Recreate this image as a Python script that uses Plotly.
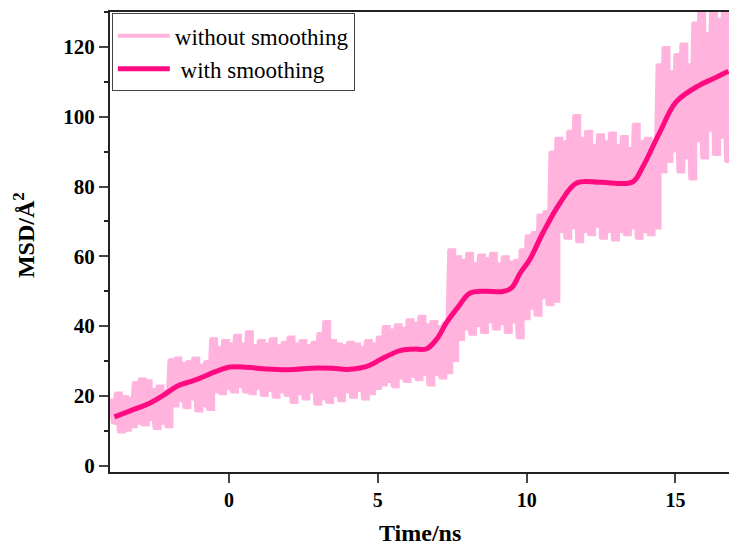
import plotly.graph_objects as go

# ---- data ----
t_start = -4.0
t_step = 0.1  # raw series sampled every 0.1 ns (alternating peaks / troughs)

raw_hi = [19, 21, 20, 19.5, 24, 25, 24.5, 22, 23, 21.5,
          30.5, 31, 29.5, 30, 31, 29, 30, 36.5, 34, 36,
          35, 37.5, 35, 38.5, 34.5, 36, 35, 36.5, 34.5, 35.5,
          37, 35, 36, 34.5, 35.5, 38, 41.5, 36, 35, 34.5,
          35.5, 35, 34, 36, 35, 37, 40, 39, 40.5, 39.5,
          42, 41, 43, 40.5, 41.5, 40, 41, 62, 60, 59,
          61, 58, 60.5, 59.5, 61, 58, 60, 58.5, 59, 62,
          66, 67, 72, 73, 90, 94, 93, 96, 100.5, 94,
          96, 92, 95, 93, 95.5, 92, 94.5, 91, 98, 93,
          94, 92, 115, 120, 113, 118, 121, 115, 127, 130,
          124, 132, 128, 133, 130]
raw_lo = [12, 9.5, 10, 11, 12, 11.5, 13, 10.5, 12, 11,
          17, 18.5, 16.5, 19, 15.5, 17, 16, 21, 20.5, 22,
          21, 22.5, 21, 20.5, 22, 20, 21.5, 19.5, 21, 20,
          18, 20.5, 19, 21, 17.5, 19, 18, 20, 18.5, 21,
          19.5, 21.5, 19, 20.5, 22, 23, 24, 22.5, 25, 24,
          25.5, 24.5, 26, 23, 26, 25, 26.5, 30, 36, 39,
          37.5, 40, 38, 41, 39, 40.5, 38, 41, 36.5, 42,
          45, 43, 48, 46, 47, 67, 65, 68, 64, 67,
          66, 68.5, 65, 67, 64.5, 67, 66, 68, 65, 67,
          66, 68, 84, 87, 90, 84, 88, 82, 93, 88,
          96, 89, 94, 87, 92]

smooth_t = [-3.85, -3.3, -2.65, -2.2, -1.75, -1.3, -0.97, -0.5, 0.03, 0.6,
            1.27, 2.0, 2.94, 3.5, 3.95, 4.4, 4.73, 5.1, 5.74, 6.2,
            6.64, 7.0, 7.3, 7.7, 8.09, 8.6, 9.2, 9.5, 9.77, 10.1,
            10.54, 11.1, 11.68, 12.5, 13.56, 13.9, 14.46, 15.03, 15.8, 16.3, 16.78]
smooth_msd = [14, 15.8, 18, 20.2, 22.8, 24.1, 25.1, 26.8, 28.3, 28.2,
              27.7, 27.5, 28, 27.9, 27.6, 28, 28.8, 30.5, 33, 33.4,
              33.5, 36.5, 40.9, 45.5, 49.4, 50, 49.9, 51, 55, 59,
              66.6, 75, 81, 81.2, 81.3, 85.6, 95.3, 104.3, 109, 111, 113]

x_ticks = [0, 5, 10, 15]
y_ticks = [0, 20, 40, 60, 80, 100, 120]

# raw series: interleave the peak and trough readings on the time grid
raw_t, raw_msd = [], []
t_hi, t_lo = [], []
for i, (hi, lo) in enumerate(zip(raw_hi, raw_lo)):
    th = t_start + (2 * i) * t_step
    tl = t_start + (2 * i + 1) * t_step
    t_hi.append(th)
    t_lo.append(tl)
    raw_t += [th, tl]
    raw_msd += [hi, lo]

FONT = "Liberation Serif"
LIGHT = "#FFB3DD"
DEEP = "#FF0A80"

fig = go.Figure()
# filled body of the noisy band (between peaks and troughs)
fig.add_trace(go.Scatter(x=t_hi, y=raw_hi, mode="lines", line=dict(color=LIGHT, width=2, shape="hv"),
                         showlegend=False, hoverinfo="skip"))
fig.add_trace(go.Scatter(x=t_lo, y=raw_lo, mode="lines", line=dict(color=LIGHT, width=2, shape="hv"),
                         fill="tonexty", fillcolor=LIGHT, showlegend=False, hoverinfo="skip"))
fig.add_trace(go.Scatter(x=raw_t, y=raw_msd, mode="lines", name="without smoothing",
                         line=dict(color=LIGHT, width=4)))
fig.add_trace(go.Scatter(x=smooth_t, y=smooth_msd, mode="lines", name=" with smoothing",
                         line=dict(color=DEEP, width=5, shape="spline")))

fig.update_layout(
    width=729, height=547,
    margin=dict(l=110, r=0, t=12, b=75),
    plot_bgcolor="white", paper_bgcolor="white",
    showlegend=True,
    legend=dict(x=0.003, y=0.997, xanchor="left", yanchor="top", traceorder="normal",
                bgcolor="white", bordercolor="#444444", borderwidth=1,
                font=dict(family=FONT, size=23, color="black"),
                tracegroupgap=0, itemwidth=52),
    font=dict(family=FONT, color="black"),
)
fig.update_xaxes(range=[-4, 16.8], tickvals=x_ticks, ticks="outside", ticklen=9, tickwidth=2,
                 showline=True, linewidth=2, linecolor="#222222", mirror=True,
                 showgrid=False, zeroline=False, automargin=False,
                 tickfont=dict(family=FONT, size=20, color="black", weight="bold"))
fig.update_yaxes(range=[-1.8, 130], tickvals=y_ticks, ticks="outside", ticklen=9, tickwidth=2,
                 showline=True, linewidth=2, linecolor="#222222",
                 showgrid=False, zeroline=False, automargin=False,
                 minor=dict(dtick=10, ticks="outside", ticklen=4, tickwidth=2, tickcolor="#222222"),
                 tickfont=dict(family=FONT, size=21, color="black", weight="bold"))

fig.add_annotation(text="Time/ns", xref="paper", yref="paper", x=0.5, y=-0.132,
                   xanchor="center", yanchor="middle", showarrow=False,
                   font=dict(family=FONT, size=24, color="black", weight="bold"))
fig.add_annotation(text="MSD/Å<sup>2</sup>", xref="paper", yref="paper", x=-0.139, y=0.515,
                   xanchor="center", yanchor="middle", showarrow=False, textangle=-90,
                   font=dict(family=FONT, size=24, color="black", weight="bold"))

fig.write_html("out.html", config={"displayModeBar": False},
               post_script="document.body.style.margin='0';document.body.style.overflow='hidden';")
